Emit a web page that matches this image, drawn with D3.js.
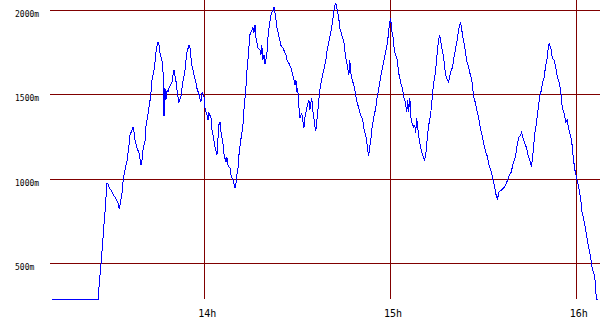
<!DOCTYPE html>
<html>
<head>
<meta charset="utf-8">
<script src="https://cdn.jsdelivr.net/npm/d3@7"></script>
<style>
  body { margin: 0; background: #fff; }
  #chart_div { width: 600px; height: 330px; }
</style>
</head>
<body>
<div id="chart_div"></div>
<script>
  // minutes after 13:00
  var minutes = [10.9, 25.7, 26.0, 26.4, 26.7, 27.0, 27.3, 27.6, 28.0, 28.3, 28.6, 28.9, 29.3, 29.9, 30.5, 31.5, 32.2, 32.5, 32.8, 33.5,
    33.8, 34.4, 35.1, 35.7, 36.0, 36.7, 37.0, 37.3, 37.6, 38.3, 38.9, 39.3, 39.6, 39.9, 40.2, 40.9, 41.2, 41.8, 42.5, 42.8,
    43.1, 43.8, 44.1, 44.4, 44.7, 45.1, 45.4, 45.7, 46.4, 46.7, 47.0, 47.3, 47.6, 48.0, 48.3, 48.6, 49.6, 49.9, 50.2, 50.5,
    50.9, 51.2, 51.5, 51.8, 52.5, 52.8, 53.1, 53.8, 54.1, 54.4, 55.1, 55.4, 55.7, 56.0, 56.7, 57.3, 57.6, 58.3, 58.9, 59.3,
    59.9, 60.2, 60.9, 61.2, 61.5, 62.2, 62.5, 62.8, 63.1, 63.5, 64.1, 64.4, 64.7, 65.1, 65.4, 66.0, 66.4, 67.0, 67.3, 67.6,
    68.3, 68.6, 69.3, 69.9, 70.2, 70.5, 70.9, 71.2, 71.8, 72.5, 72.8, 73.1, 73.5, 73.8, 74.1, 74.4, 74.7, 75.4, 75.7, 76.0,
    76.4, 76.7, 77.0, 77.3, 78.0, 78.3, 78.6, 78.9, 79.3, 79.6, 80.2, 80.5, 80.9, 81.5, 82.2, 82.5, 82.8, 83.1, 83.5, 84.1,
    84.4, 84.7, 85.4, 85.7, 86.4, 86.7, 87.3, 88.0, 88.3, 88.9, 89.3, 89.6, 89.9, 90.2, 90.5, 90.9, 91.5, 91.8, 92.2, 92.5,
    92.8, 93.1, 93.8, 94.1, 94.7, 95.1, 95.4, 95.7, 96.0, 96.4, 96.7, 97.0, 97.3, 98.0, 98.6, 99.3, 99.6, 100.2, 100.9, 101.5,
    101.8, 102.2, 102.5, 102.8, 103.1, 103.5, 103.8, 104.4, 105.1, 105.4, 105.7, 106.0, 106.7, 107.0, 107.3, 107.6, 108.3, 108.9, 109.3, 109.9,
    110.5, 111.2, 111.5, 112.1, 112.5, 112.8, 113.1, 113.4, 113.8, 114.1, 114.7, 115.4, 115.7, 116.3, 116.9, 117.3, 117.9, 118.6, 119.2, 119.6,
    119.9, 120.2, 120.5, 120.9, 121.2, 121.5, 122.2, 122.5, 122.8, 123.4, 124.1, 124.4, 125.0, 125.4, 125.7, 126.0, 126.4, 126.7, 127.0, 127.6,
    128.0, 128.3, 128.6, 128.9, 129.3, 129.6, 130.2, 130.5, 131.2, 131.5, 131.8, 132.1, 132.5, 133.1, 133.4, 133.7, 134.1, 134.7, 135.0, 135.4,
    135.7, 136.0, 136.3, 136.7, 137.3, 137.6, 137.9, 138.6, 138.9, 139.5, 140.2, 140.5, 141.2, 141.8, 142.1, 142.5, 142.8, 143.1, 143.4, 144.1,
    144.4, 144.7, 145.4, 145.7, 146.4, 146.7, 147.0, 147.6, 148.0, 148.6, 148.9, 149.3, 149.9, 150.2, 150.9, 151.5, 151.8, 152.5, 153.1, 153.4,
    153.8, 154.1, 154.7, 155.1, 155.4, 156.0, 157.0, 157.3, 158.0, 158.6, 159.2, 159.6, 159.9, 160.5, 160.9, 161.2, 161.5, 162.2, 162.5, 163.1,
    163.5, 164.1, 164.4, 165.1, 165.7, 166.0, 166.4, 166.6, 167.3, 167.6, 167.9, 168.3, 168.9, 169.2, 169.5, 169.8, 170.2, 170.8, 171.1, 171.4,
    172.1, 172.4, 173.0, 173.7, 174.0, 174.7, 175.2, 175.6, 176.2, 176.8, 177.2, 177.8, 178.4, 178.8, 179.1, 179.4, 179.7, 180.4, 181.0, 181.6,
    182.0, 182.6, 183.2, 183.6, 184.2, 184.8, 185.1, 185.7, 186.1, 186.4, 186.7, 187.3];

  // altitude in metres
  var altitude = [283, 283, 360, 448, 502, 579, 650, 727, 816, 904, 976, 970, 946, 934, 910, 881, 857, 822, 845, 922,
    993, 1053, 1112, 1201, 1260, 1289, 1307, 1278, 1230, 1183, 1153, 1112, 1082, 1112, 1171, 1230, 1319, 1378, 1467, 1514,
    1585, 1645, 1692, 1751, 1787, 1810, 1792, 1745, 1692, 1627, 1372, 1538, 1467, 1526, 1514, 1538, 1574, 1615, 1645, 1615,
    1574, 1526, 1485, 1455, 1491, 1538, 1574, 1645, 1704, 1751, 1792, 1775, 1721, 1674, 1615, 1574, 1538, 1500, 1455, 1514,
    1491, 1420, 1378, 1349, 1390, 1360, 1289, 1260, 1230, 1183, 1141, 1230, 1319, 1337, 1278, 1218, 1141, 1100, 1129, 1082,
    1064, 1023, 993, 946, 964, 1023, 1064, 1141, 1230, 1319, 1408, 1467, 1556, 1645, 1704, 1775, 1852, 1882, 1899, 1864,
    1911, 1834, 1810, 1775, 1763, 1734, 1792, 1704, 1734, 1680, 1734, 1822, 1893, 1970, 2000, 2018, 1988, 1953, 1893, 1846,
    1822, 1792, 1775, 1763, 1734, 1704, 1686, 1657, 1633, 1597, 1556, 1585, 1514, 1538, 1437, 1360, 1390, 1349, 1301, 1360,
    1390, 1420, 1467, 1408, 1479, 1396, 1360, 1313, 1283, 1349, 1408, 1467, 1526, 1597, 1645, 1704, 1751, 1810, 1870, 1941,
    1988, 2030, 2041, 2012, 1988, 1941, 1893, 1852, 1810, 1763, 1716, 1692, 1615, 1704, 1633, 1597, 1556, 1497, 1455, 1420,
    1378, 1349, 1301, 1260, 1218, 1171, 1135, 1183, 1230, 1289, 1360, 1420, 1467, 1526, 1597, 1633, 1692, 1751, 1810, 1882,
    1929, 1953, 1882, 1852, 1792, 1751, 1716, 1674, 1627, 1574, 1526, 1485, 1449, 1396, 1467, 1396, 1479, 1366, 1337, 1307,
    1319, 1272, 1360, 1313, 1248, 1212, 1159, 1141, 1112, 1141, 1189, 1260, 1319, 1378, 1437, 1497, 1568, 1633, 1704, 1775,
    1822, 1852, 1822, 1775, 1721, 1674, 1615, 1585, 1574, 1627, 1663, 1704, 1775, 1834, 1882, 1911, 1923, 1893, 1852, 1781,
    1745, 1704, 1663, 1633, 1585, 1538, 1485, 1449, 1408, 1366, 1331, 1289, 1248, 1212, 1159, 1129, 1094, 1053, 1011, 981,
    952, 916, 875, 922, 928, 934, 952, 964, 993, 1023, 1041, 1082, 1100, 1129, 1183, 1212, 1242, 1260, 1278, 1230,
    1212, 1183, 1153, 1112, 1070, 1129, 1183, 1248, 1331, 1378, 1420, 1485, 1526, 1568, 1585, 1603, 1663, 1721, 1775, 1805,
    1763, 1716, 1704, 1645, 1603, 1568, 1509, 1426, 1390, 1337, 1349, 1289, 1248, 1201, 1141, 1094, 1053, 993, 946, 875,
    804, 757, 697, 650, 591, 537, 490, 443, 431, 342, 283, 283];

  var altTicks = [500, 1000, 1500, 2000];
  var hourTicks = [14, 15, 16];

  var day = new Date(2000, 0, 1, 13, 0, 0);
  var data = minutes.map(function(m, i) {
    return { t: new Date(day.getTime() + m * 60000), alt: altitude[i] };
  });

  var width = 600, height = 330;
  var svg = d3.select("#chart_div").append("svg")
    .attr("width", width)
    .attr("height", height);

  var x = d3.scaleTime()
    .domain([new Date(2000, 0, 1, 13, 0), new Date(2000, 0, 1, 16, 0)])
    .range([18.5, 575.8]);

  var y = d3.scaleLinear()
    .domain([500, 2000])
    .range([263.3, 10]);

  var gridColor = "#800000";

  // horizontal grid + labels
  svg.selectAll("hgrid")
    .data(altTicks)
    .enter()
    .append("line")
      .attr("x1", 50)
      .attr("x2", width)
      .attr("y1", function(d) { return Math.round(y(d)) + 0.5; })
      .attr("y2", function(d) { return Math.round(y(d)) + 0.5; })
      .attr("stroke", gridColor)
      .attr("stroke-width", 1);

  svg.selectAll("hlabels")
    .data(altTicks)
    .enter()
    .append("text")
      .attr("x", 15)
      .attr("y", function(d) { return y(d) + 7; })
      .style("font-family", "'DejaVu Sans Mono', monospace")
      .style("font-size", "8px")
      .text(function(d) { return d + "m"; });

  // vertical grid + labels
  var hourDate = function(h) { return new Date(2000, 0, 1, h, 0); };
  svg.selectAll("vgrid")
    .data(hourTicks)
    .enter()
    .append("line")
      .attr("x1", function(d) { return Math.round(x(hourDate(d))) + 0.5; })
      .attr("x2", function(d) { return Math.round(x(hourDate(d))) + 0.5; })
      .attr("y1", 0)
      .attr("y2", 299)
      .attr("stroke", gridColor)
      .attr("stroke-width", 1);

  svg.selectAll("vlabels")
    .data(hourTicks)
    .enter()
    .append("text")
      .attr("x", function(d) { return x(hourDate(d)) + 3; })
      .attr("y", 317)
      .attr("text-anchor", "middle")
      .style("font-family", "'DejaVu Sans Mono', monospace")
      .style("font-size", "10px")
      .text(function(d) { return d + "h"; });

  // altitude profile
  var line = d3.line()
    .x(function(d) { return x(d.t); })
    .y(function(d) { return y(d.alt); });

  svg.append("path")
    .datum(data)
    .attr("d", line)
    .attr("fill", "none")
    .attr("stroke", "#0000ff")
    .attr("stroke-width", 1)
    .style("shape-rendering", "crispEdges");
</script>
</body>
</html>
